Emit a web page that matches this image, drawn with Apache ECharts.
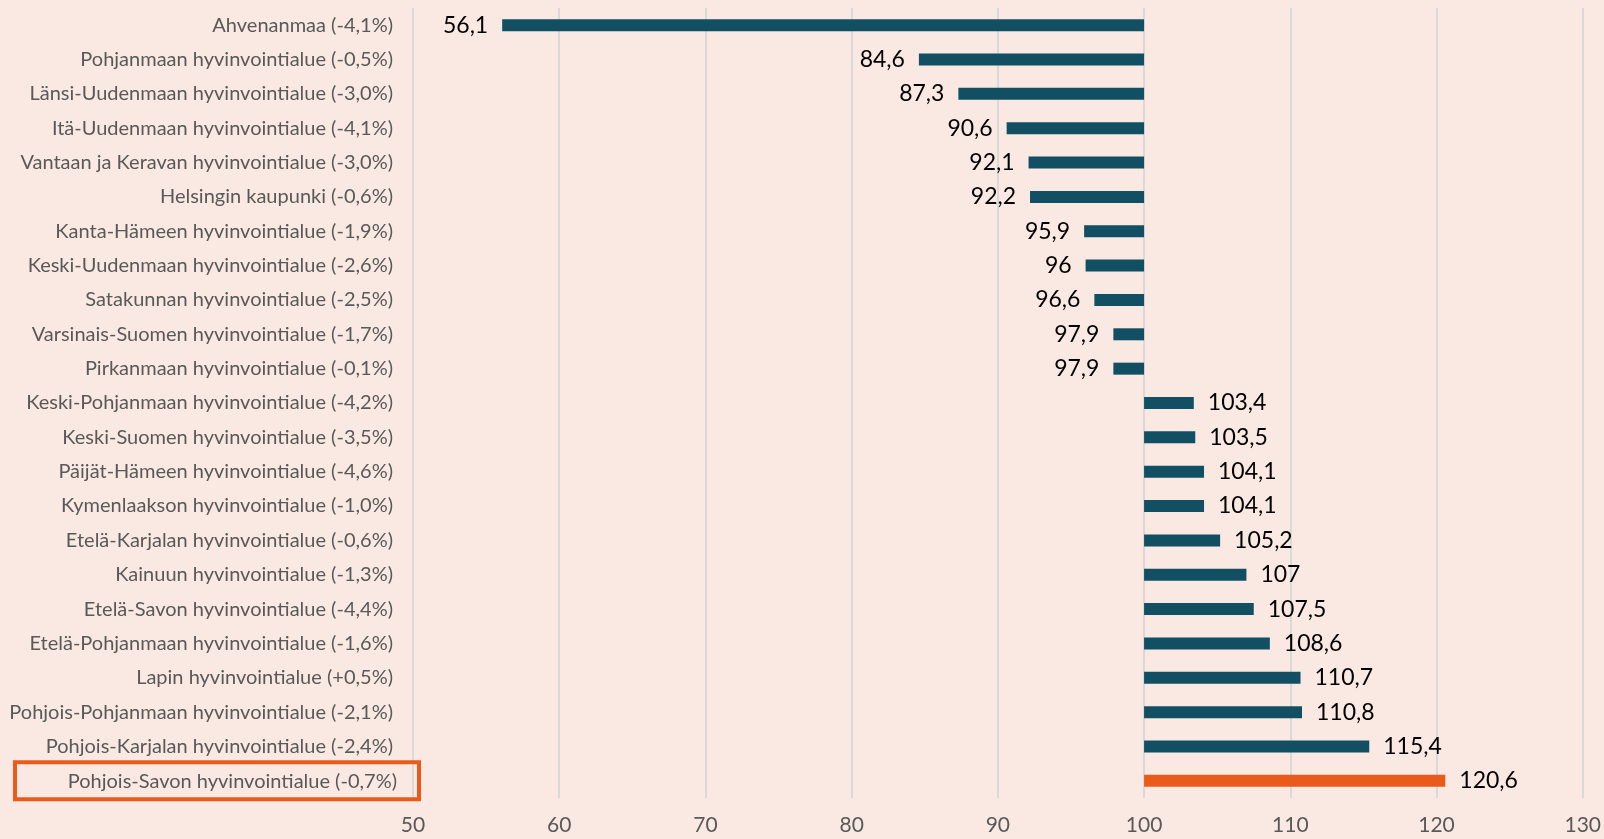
<!DOCTYPE html>
<html>
<head>
<meta charset="UTF-8"/>
<title></title>
<script src="https://cdn.jsdelivr.net/npm/echarts@6/dist/echarts.min.js"></script>
<style>
html,body{margin:0;padding:0;background:#F9E9E2;}
#main{width:1604px;height:839px;}
</style>
</head>
<body>
<div id="main"></div>
<script type="text/javascript">
// alueet ja indeksi (koko maa = 100)
var regions = [
  'Ahvenanmaa (-4,1%)',
  'Pohjanmaan hyvinvointialue (-0,5%)',
  'Länsi-Uudenmaan hyvinvointialue (-3,0%)',
  'Itä-Uudenmaan hyvinvointialue (-4,1%)',
  'Vantaan ja Keravan hyvinvointialue (-3,0%)',
  'Helsingin kaupunki (-0,6%)',
  'Kanta-Hämeen hyvinvointialue (-1,9%)',
  'Keski-Uudenmaan hyvinvointialue (-2,6%)',
  'Satakunnan hyvinvointialue (-2,5%)',
  'Varsinais-Suomen hyvinvointialue (-1,7%)',
  'Pirkanmaan hyvinvointialue (-0,1%)',
  'Keski-Pohjanmaan hyvinvointialue (-4,2%)',
  'Keski-Suomen hyvinvointialue (-3,5%)',
  'Päijät-Hämeen hyvinvointialue (-4,6%)',
  'Kymenlaakson hyvinvointialue (-1,0%)',
  'Etelä-Karjalan hyvinvointialue (-0,6%)',
  'Kainuun hyvinvointialue (-1,3%)',
  'Etelä-Savon hyvinvointialue (-4,4%)',
  'Etelä-Pohjanmaan hyvinvointialue (-1,6%)',
  'Lapin hyvinvointialue (+0,5%)',
  'Pohjois-Pohjanmaan hyvinvointialue (-2,1%)',
  'Pohjois-Karjalan hyvinvointialue (-2,4%)',
  'Pohjois-Savon hyvinvointialue (-0,7%)'
];
var values = [56.1, 84.6, 87.3, 90.6, 92.1, 92.2, 95.9, 96, 96.6, 97.9, 97.9,
  103.4, 103.5, 104.1, 104.1, 105.2, 107, 107.5, 108.6, 110.7, 110.8, 115.4, 120.6];
var baseLine = 100;
var highlight = 'Pohjois-Savon hyvinvointialue (-0,7%)';
var xTicks = {min: 50, max: 130, interval: 10};

var BLUE = '#124F62', ORANGE = '#EA5B1B', FONT = 'Lato';

// pylväät lähtevät 100:sta -> näkymätön pohja + näkyvä osa
var helper = [], bars = [];
for (var i = 0; i < values.length; i++) {
  var v = values[i];
  helper.push(Math.min(v, baseLine));
  bars.push({
    value: Math.abs(v - baseLine),
    orig: v,
    itemStyle: {color: regions[i] == highlight ? ORANGE : BLUE},
    label: {position: v < baseLine ? 'left' : 'right'}
  });
}

var myChart = echarts.init(document.getElementById('main'));
var option = {
  backgroundColor: '#F9E9E2',
  animation: false,
  grid: {left: 413, right: 20, top: 8, bottom: 41},
  xAxis: {
    type: 'value',
    min: xTicks.min, max: xTicks.max, interval: xTicks.interval,
    axisLine: {show: false},
    axisTick: {show: false},
    splitLine: {lineStyle: {color: '#D9D9D9', width: 2}},
    axisLabel: {color: '#595959', fontFamily: FONT, fontSize: 21, margin: 17}
  },
  yAxis: {
    type: 'category',
    inverse: true,
    data: regions,
    axisLine: {show: false},
    axisTick: {show: false},
    axisLabel: {
      interval: 0,
      margin: -6,
      color: '#595959',
      fontFamily: FONT,
      fontSize: 20,
      formatter: function(val){
        return val == highlight ? '{hl|' + val + '}' : '{n|' + val + '}';
      },
      rich: {
        n: {color: '#595959', fontFamily: FONT, fontSize: 20, padding: [0, 26, 0, 0]},
        hl: {color: '#595959', fontFamily: FONT, fontSize: 20, width: 354, align: 'right',
             padding: [9, 22, 8, 28], borderColor: ORANGE, borderWidth: 4}
      }
    }
  },
  series: [
    {
      type: 'bar', stack: 'a', data: helper, barWidth: 12,
      itemStyle: {color: 'rgba(0,0,0,0)'}, silent: true
    },
    {
      type: 'bar', stack: 'a', data: bars, barWidth: 12,
      label: {
        show: true, distance: 14, color: '#000', fontFamily: FONT, fontSize: 23,
        formatter: function(p){ return String(p.data.orig).replace('.', ','); }
      }
    }
  ]
};
myChart.setOption(option);
</script>
</body>
</html>
